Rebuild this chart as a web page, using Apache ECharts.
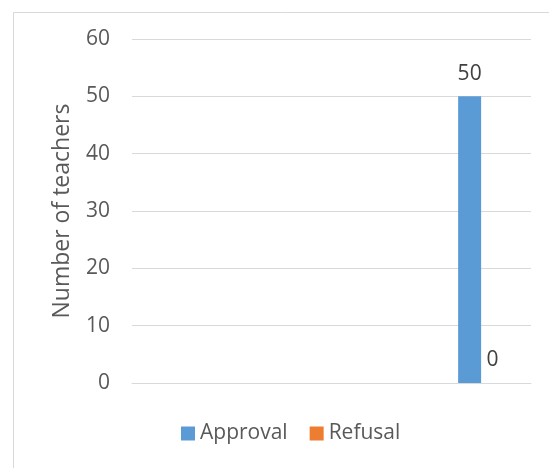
<!DOCTYPE html>
<html>
<head>
<meta charset="utf-8">
<script src="https://cdn.jsdelivr.net/npm/echarts@6/dist/echarts.min.js"></script>
<style>
  html, body { margin: 0; padding: 0; background: #fff; }
  #chart { width: 549px; height: 468px; }
</style>
</head>
<body>
<div id="chart"></div>
<script>
const categories = ['', '', '', ''];
const approval = [null, null, null, 50];
const refusal = [null, null, null, 0];
const yTicks = { min: 0, max: 60, interval: 10 };

const FONT = '"Open Sans", sans-serif';
const TXT = '#595959';
const chart = echarts.init(document.getElementById('chart'), null, { renderer: 'canvas' });
chart.setOption({
  animation: false,
  backgroundColor: '#ffffff',
  textStyle: { fontFamily: FONT },
  graphic: [{
    type: 'rect', left: 11, top: 10, silent: true,
    shape: { width: 600, height: 500 },
    style: { fill: 'none', stroke: '#d9d9d9', lineWidth: 1 }
  }],
  grid: { left: 132, right: 18, top: 39, bottom: 85 },
  legend: {
    left: 181, top: 423, padding: 0,
    itemWidth: 14, itemHeight: 14, itemGap: 22,
    icon: 'rect',
    textStyle: { fontFamily: FONT, fontSize: 21, color: TXT },
    data: ['Approval', 'Refusal']
  },
  xAxis: {
    type: 'category',
    data: categories,
    axisLine: { lineStyle: { color: '#d9d9d9', width: 1 } },
    axisTick: { show: false },
    axisLabel: { show: false }
  },
  yAxis: {
    type: 'value',
    min: yTicks.min, max: yTicks.max, interval: yTicks.interval,
    name: 'Number of teachers',
    nameLocation: 'middle',
    nameGap: 58,
    nameTextStyle: { fontFamily: FONT, fontSize: 23, color: TXT },
    axisLine: { show: false },
    axisTick: { show: false },
    axisLabel: { fontFamily: FONT, fontSize: 21, color: TXT, margin: 22 },
    splitLine: { lineStyle: { color: '#d9d9d9', width: 1 } }
  },
  series: [
    {
      name: 'Approval', type: 'bar', data: approval,
      barWidth: 23, barGap: '0%',
      itemStyle: { color: '#5b9bd5' },
      label: { show: true, position: 'top', distance: 12, fontFamily: FONT, fontSize: 21, color: '#404040' }
    },
    {
      name: 'Refusal', type: 'bar', data: refusal,
      barWidth: 23,
      itemStyle: { color: '#ed7d31' },
      label: { show: true, position: 'top', distance: 12, fontFamily: FONT, fontSize: 21, color: '#404040' }
    }
  ]
});
</script>
</body>
</html>
